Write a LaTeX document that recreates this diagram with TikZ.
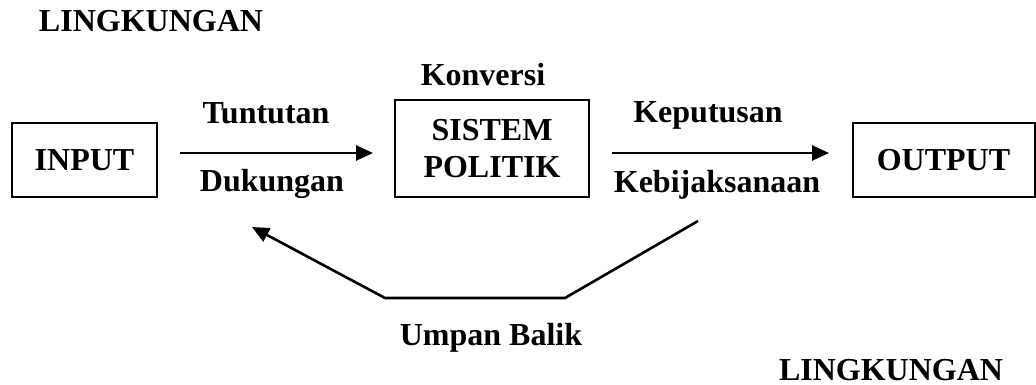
\documentclass[tikz,border=0pt]{standalone}
\usepackage{fontspec}
\setmainfont{Liberation Serif}
\usetikzlibrary{arrows.meta}
\begin{document}
\begin{tikzpicture}[x=1pt,y=-1pt,
  lbl/.style={font=\fontsize{32}{37}\selectfont\bfseries, inner sep=0pt, anchor=base},
  boxnode/.style={draw, line width=2pt, font=\fontsize{32}{37}\selectfont\bfseries, inner sep=0pt, align=center},
  tip/.style={-{Triangle[length=17pt,width=15pt]}},
  arr/.style={line width=2.6pt, tip},
  fb/.style={line width=2.6pt}]
\useasboundingbox (0,0) rectangle (1036,385);
% boxes
\node[boxnode, minimum width=145pt, minimum height=74pt] (inbox) at (84.5,160) {INPUT};
\node[boxnode, minimum width=194pt, minimum height=97pt] (sys) at (492,148.5) {SISTEM\\POLITIK};
\node[boxnode, minimum width=182pt, minimum height=74pt] (outbox) at (943.5,160) {OUTPUT};
% labels
\node[lbl] (env1) at (151,32) {LINGKUNGAN};
\node[lbl] (env2) at (891,380) {LINGKUNGAN};
\node[lbl] (konv) at (483,86) {Konversi};
\node[lbl] (tunt) at (266,124) {Tuntutan};
\node[lbl] (duk) at (272,191) {Dukungan};
\node[lbl] (kep) at (708,123) {Keputusan};
\node[lbl] (kebij) at (717,192) {Kebijaksanaan};
\node[lbl] (umpan) at (491,345) {Umpan Balik};
% arrows
\coordinate (a1s) at (180,153);
\coordinate (a1e) at (373,153);
\coordinate (a2s) at (612,153);
\coordinate (a2e) at (829,153);
\draw[arr] (a1s) -- (a1e);
\draw[arr] (a2s) -- (a2e);
% feedback
\coordinate (f1) at (698,221);
\coordinate (f2) at (565,298);
\coordinate (f3) at (385,298);
\coordinate (f4) at (252,227);
\draw[fb, tip] (f1) -- (f2) -- (f3) -- (f4);
\end{tikzpicture}
\end{document}
